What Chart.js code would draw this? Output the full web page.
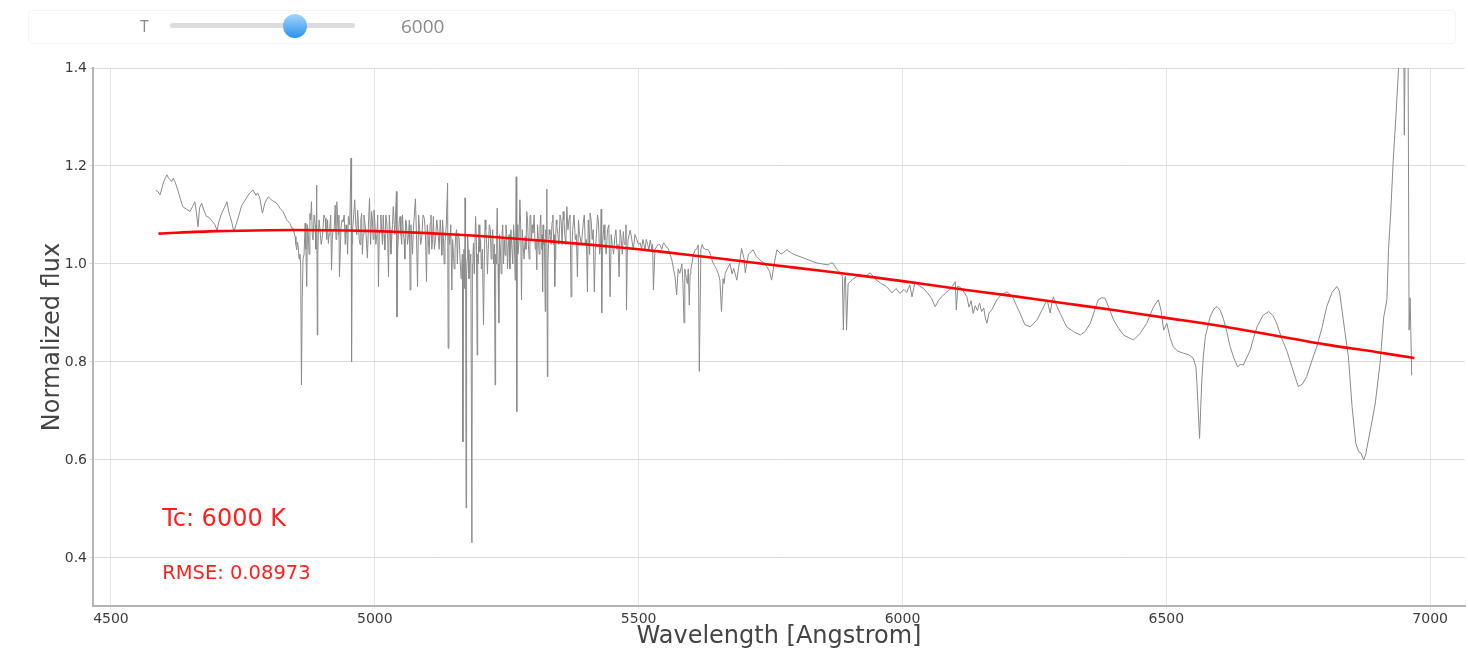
<!DOCTYPE html>
<html><head><meta charset="utf-8">
<script src="https://cdn.jsdelivr.net/npm/chart.js@4.4.0/dist/chart.umd.min.js"></script>
<style>
html,body{margin:0;padding:0;background:#fff;}
#wrap{position:relative;width:1468px;height:653px;overflow:hidden;background:#fff;}
#c{position:absolute;left:0;top:0;}
.ctl{position:absolute;left:28px;top:10px;width:1426px;height:32px;border:1px solid rgba(0,0,0,0.04);border-radius:4px;}
.lbl{position:absolute;font-family:"Open Sans",sans-serif;color:#8a8a8a;white-space:nowrap;}
.track{position:absolute;left:170px;top:23px;width:185px;height:5px;background:#dcdcdc;border-radius:3px;}
.thumb{position:absolute;left:283px;top:14px;width:24px;height:24px;border-radius:50%;background:linear-gradient(#a6d4fc,#2a93f0);}
</style></head>
<body>
<div id="wrap">
<canvas id="c" width="1468" height="653"></canvas>
<div class="ctl"></div>
<div class="lbl" style="left:140px;top:15px;font-size:16px;line-height:22px;">T</div>
<div class="track"></div>
<div class="thumb"></div>
<div class="lbl" id="tval" style="left:401px;top:13px;font-size:19px;line-height:26px;">6000</div>
</div>
<script>
// ---- data ----
const xTicks = [4500, 5000, 5500, 6000, 6500, 7000];
const yTicks = [0.4, 0.6, 0.8, 1.0, 1.2, 1.4];
const sliderValue = "6000";
const tcLabel = "Tc: 6000 K";
const rmseLabel = "RMSE: 0.08973";

// fitted black-body curve (wavelength, normalized flux)
const fitWave = [4590,4700,4800,4900,5000,5100,5200,5300,5400,5500,5600,5700,5800,5900,6000,6100,6200,6300,6400,6500,6600,6700,6800,6900,6970];
const fitFlux = [1.062,1.067,1.069,1.069,1.067,1.063,1.057,1.049,1.040,1.030,1.018,1.005,0.992,0.979,0.965,0.950,0.936,0.921,0.906,0.890,0.874,0.855,0.836,0.820,0.808];

// observed spectrum, split by region: [wavelength, flux]
const specBlue = [[4585,1.150],[4593,1.141],[4606,1.182],[4612,1.172],[4618,1.175],[4627,1.150],[4636,1.117],[4650,1.107],[4659,1.127],[4665,1.076],[4672,1.124],[4681,1.097],[4693,1.086],[4701,1.069],[4710,1.104],[4720,1.127],[4726,1.097],[4733,1.066],[4741,1.094],[4757,1.135],[4769,1.151],[4775,1.140],[4782,1.135],[4787,1.104],[4798,1.137],[4814,1.124],[4820,1.114],[4826,1.107],[4833,1.090],[4843,1.073],[4845,1.073]];

const specBlueFine = [[4589,1.148],[4600,1.168],[4609,1.176],[4615,1.168],[4622,1.166],[4631,1.135],[4643,1.112],[4655,1.118],[4662,1.105],[4668,1.115],[4676,1.110],[4686,1.095],[4697,1.080],[4705,1.088],[4715,1.115],[4723,1.108],[4729,1.085],[4737,1.080],[4748,1.120],[4763,1.145],[4778,1.145],[4792,1.125],[4805,1.130],[4817,1.120],[4830,1.098],[4839,1.083]];

const specMetal = [[4849,1.056],[4852,1.029],[4855,1.035],[4858,1.020],[4861,0.753],[4864,1.010],[4868,1.083],[4871,0.954],[4874,1.060],[4877,1.103],[4880,1.127],[4883,1.049],[4887,1.080],[4890,1.161],[4891,0.855],[4893,1.060],[4896,1.090],[4901,1.059],[4906,1.093],[4909,1.050],[4912,1.042],[4915,1.080],[4918,0.988],[4921,1.070],[4925,1.120],[4928,1.127],[4931,1.060],[4933,0.974],[4936,1.075],[4940,1.086],[4944,1.040],[4947,1.063],[4950,1.097],[4955,1.216],[4956,0.800],[4958,1.070],[4962,1.131],[4966,1.060],[4969,1.080],[4972,1.040],[4975,1.103],[4978,1.060],[4981,1.086],[4986,1.012],[4990,1.134],[4994,1.107],[4997,1.050],[5000,1.090],[5004,1.060],[5007,0.954],[5010,1.070],[5013,1.069],[5016,1.100],[5019,1.029],[5023,1.080],[5026,0.974],[5029,1.070],[5032,1.049],[5035,1.117],[5041,1.148],[5042,0.892],[5045,1.060],[5048,1.097],[5051,1.040],[5054,1.063],[5057,1.010],[5060,1.083],[5064,1.060],[5067,0.947],[5070,1.050],[5073,1.069],[5077,1.133],[5081,0.954],[5085,1.070],[5089,1.056],[5094,1.093],[5098,0.964],[5101,1.060],[5105,1.083],[5108,1.030],[5111,1.097],[5115,1.050],[5120,1.063],[5124,1.090],[5127,1.018],[5130,1.060],[5133,1.042],[5138,1.165],[5139,0.828],[5142,1.040],[5146,0.947],[5149,1.020],[5152,1.029],[5155,1.070],[5158,1.063],[5162,1.000],[5165,0.995],[5167,0.637],[5169,1.030],[5171,1.135],[5173,0.502],[5175,1.010],[5177,1.029],[5180,1.000],[5184,0.431],[5186,1.020],[5187,1.043],[5191,1.097],[5194,0.814],[5196,1.000],[5199,1.025],[5202,0.990],[5206,0.876],[5209,1.090],[5212,1.040],[5215,1.029],[5219,1.070],[5222,1.046],[5225,1.000],[5228,0.753],[5230,1.000],[5232,1.114],[5235,0.880],[5238,1.030],[5241,1.056],[5244,1.000],[5247,1.018],[5250,1.060],[5253,1.035],[5256,0.990],[5260,1.029],[5263,1.080],[5266,0.967],[5268,1.178],[5269,0.699],[5271,1.020],[5275,1.131],[5278,0.927],[5281,1.040],[5285,1.056],[5288,1.107],[5291,1.040],[5294,1.097],[5297,1.050],[5300,1.063],[5304,1.030],[5307,0.988],[5310,1.050],[5313,1.073],[5316,1.030],[5318,0.943],[5320,1.040],[5323,0.903],[5325,1.050],[5326,1.153],[5327,0.770],[5329,1.030],[5332,1.060],[5336,1.086],[5339,1.040],[5341,0.954],[5343,1.060],[5345,1.080],[5349,1.040],[5353,1.090],[5357,1.107],[5360,1.060],[5364,1.117],[5368,1.090],[5372,0.933],[5375,1.070],[5380,1.050],[5384,0.974],[5388,1.060],[5395,1.083],[5399,1.040],[5403,0.943],[5406,1.060],[5408,1.104],[5412,1.050],[5416,0.943],[5420,1.060],[5424,1.086],[5428,1.040],[5429,1.112],[5430,0.900],[5433,1.060],[5436,1.049],[5441,1.070],[5446,0.933],[5450,1.040],[5455,1.056],[5459,1.030],[5463,0.974],[5467,1.050],[5471,1.066],[5475,1.040],[5476,1.080],[5477,0.906],[5480,1.050],[5484,1.069],[5490,1.029],[5496,1.052],[5503,1.043],[5508,1.050],[5512,1.029],[5517,1.040],[5522,1.049],[5525,1.030],[5528,0.947],[5531,1.030],[5534,1.035],[5540,1.040],[5547,1.043],[5552,1.035],[5556,1.032],[5563,1.008],[5569,0.974],[5572,0.937],[5575,0.990],[5578,0.981],[5582,1.000],[5586,0.880],[5589,0.980],[5591,0.967],[5594,0.990],[5596,0.916],[5599,0.990],[5601,1.001],[5607,1.029],[5613,1.039],[5615,0.781],[5618,1.030],[5623,1.032],[5632,1.029],[5639,1.008],[5645,0.995],[5648,0.988],[5654,0.967],[5657,0.903],[5660,0.970],[5664,0.981],[5673,1.001],[5680,0.991],[5686,0.967],[5692,1.008],[5695,1.032]];

const specMetalFine = [[4850.5,1.04],[4853.5,1.045],[4856.5,1.01],[4859.5,1.00],[4862.5,0.93],[4866,1.02],[4869.5,1.03],[4872.5,1.08],[4875.5,1.02],[4878.5,1.09],[4881.5,1.06],[4885,1.10],[4888.5,1.03],[4892,1.02],[4894.5,1.09],[4898.5,1.04],[4903.5,1.10],[4907.5,1.07],[4910.5,1.09],[4913.5,1.06],[4916.5,1.10],[4919.5,1.05],[4923,1.07],[4926.5,1.05],[4929.5,1.09],[4932,1.10],[4934.5,1.02],[4938,1.09],[4942,1.10],[4945.5,1.08],[4948.5,1.02],[4952.5,1.08],[4957,1.04],[4960,1.10],[4964,1.08],[4967.5,1.11],[4970.5,1.05],[4973.5,1.09],[4976.5,1.02],[4979.5,1.10],[4983.5,1.06],[4988,1.08],[4992,1.04],[4995.5,1.09],[4998.5,1.11],[5002,1.04],[5005.5,1.10],[5008.5,1.06],[5011.5,1.10],[5014.5,1.04],[5017.5,1.06],[5021,1.10],[5024.5,1.05],[5027.5,1.10],[5030.5,1.02],[5033.5,1.08],[5038,1.06],[5043.5,1.03],[5046.5,1.09],[5049.5,1.06],[5052.5,1.10],[5055.5,1.05],[5058.5,1.09],[5062,1.04],[5065.5,1.09],[5068.5,1.08],[5071.5,1.02],[5075,1.10],[5079,1.06],[5083,1.10],[5087,1.04],[5091.5,1.10],[5096,1.06],[5099.5,1.08],[5103,1.02],[5106.5,1.10],[5109.5,1.05],[5113,1.03],[5117.5,1.09],[5122,1.03],[5125.5,1.06],[5128.5,1.09],[5131.5,1.00],[5135.5,1.08],[5140.5,1.06],[5144,1.08],[5147.5,1.05],[5150.5,0.99],[5153.5,1.06],[5156.5,1.00],[5160,1.05],[5163.5,0.97],[5166,1.02],[5168,1.00],[5170,0.95],[5172,1.05],[5174,0.98],[5176,1.06],[5178.5,0.97],[5182,1.02],[5185,1.00],[5188.5,0.98],[5192.5,1.05],[5195,1.02],[5197.5,1.08],[5200.5,1.05],[5204,1.03],[5207.5,1.00],[5210.5,1.07],[5213.5,0.98],[5217,1.08],[5220.5,1.01],[5223.5,1.07],[5226.5,1.04],[5229,1.02],[5231,1.06],[5233.5,1.00],[5236.5,1.06],[5239.5,0.98],[5242.5,1.08],[5245.5,1.05],[5248.5,1.08],[5251.5,0.99],[5254.5,1.06],[5258,1.07],[5261.5,1.00],[5264.5,1.05],[5267,1.02],[5270,1.08],[5273,1.04],[5276.5,1.08],[5279.5,1.07],[5283,1.01],[5286.5,1.03],[5289.5,1.09],[5292.5,1.01],[5295.5,1.10],[5298.5,1.08],[5302,1.10],[5305.5,1.05],[5308.5,1.08],[5311.5,1.02],[5314.5,1.10],[5317,1.06],[5319,1.08],[5321.5,1.05],[5324,1.07],[5328,1.00],[5330.5,1.07],[5334,1.04],[5337.5,1.10],[5340,1.06],[5342,1.01],[5344,1.09],[5347,1.06],[5351,1.10],[5355,1.04],[5358.5,1.09],[5362,1.04],[5366,1.07],[5370,1.10],[5373.5,1.03],[5377.5,1.10],[5382,1.06],[5386,1.09],[5391.5,1.04],[5397,1.10],[5401,1.05],[5404.5,1.09],[5407,1.02],[5410,1.09],[5414,1.07],[5418,1.03],[5422,1.10],[5426,1.02],[5431.5,1.04],[5434.5,1.08],[5438.5,1.02],[5443.5,1.08],[5448,1.06],[5452.5,1.02],[5457,1.07],[5461,1.04],[5465,1.07],[5469,1.02],[5473,1.04],[5478.5,1.02],[5482,1.06],[5487,1.05],[5493,1.06],[5499.5,1.04],[5505.5,1.03],[5510,1.04],[5514.5,1.05],[5519.5,1.03],[5526.5,1.04],[5537,1.04],[5544,1.03],[5550,1.04],[5559.5,1.02],[5566,0.99],[5580,0.99],[5584,0.96],[5587.5,0.99],[5592.5,0.96],[5597.5,0.98],[5604,1.02],[5610,1.03],[5620.5,1.04],[5627,1.03],[5636,1.02],[5642,1.00],[5651,0.98],[5662,0.96],[5668,0.99],[5677,0.98],[5683,0.98],[5689,0.99]];

const specMid = [[5700,1.010],[5702,0.982],[5708,1.020],[5717,1.029],[5723,1.015],[5730,1.008],[5740,1.000],[5748,0.985],[5752,0.967],[5756,0.995],[5762,1.029],[5770,1.020],[5781,1.029],[5790,1.022],[5798,1.018],[5806,1.015],[5818,1.010],[5830,1.005],[5838,1.002],[5849,1.000],[5859,0.998],[5864,1.002],[5868,1.002],[5875,0.990],[5882,0.982],[5886,0.975],[5888,0.865],[5890,0.970],[5892,0.975],[5894,0.865],[5897,0.960],[5901,0.964],[5910,0.972],[5920,0.978],[5930,0.975],[5939,0.982],[5948,0.970],[5958,0.961],[5968,0.955],[5975,0.948],[5980,0.941],[5988,0.950],[5995,0.940],[6003,0.948],[6008,0.942],[6014,0.957],[6018,0.933],[6024,0.964],[6032,0.955],[6040,0.950],[6048,0.940],[6055,0.930],[6062,0.913],[6068,0.925],[6074,0.933],[6084,0.943],[6092,0.950],[6100,0.964],[6102,0.906],[6105,0.955],[6112,0.950],[6118,0.940],[6122,0.933],[6126,0.912],[6130,0.925],[6134,0.899],[6138,0.915],[6142,0.905],[6146,0.920],[6150,0.903],[6154,0.910],[6157,0.890],[6160,0.879],[6164,0.900],[6169,0.906],[6179,0.927],[6188,0.938],[6198,0.943],[6204,0.938],[6210,0.930],[6216,0.915],[6223,0.899],[6232,0.876],[6242,0.872],[6248,0.878],[6255,0.886],[6264,0.905],[6274,0.927],[6280,0.900],[6283,0.920],[6286,0.933],[6292,0.915],[6299,0.899],[6311,0.872],[6324,0.862],[6337,0.855],[6346,0.862],[6356,0.879],[6364,0.905],[6371,0.927],[6378,0.931],[6384,0.930],[6392,0.908],[6400,0.886],[6410,0.868],[6419,0.855],[6428,0.850],[6438,0.845],[6450,0.858],[6463,0.879],[6470,0.898],[6476,0.913],[6485,0.927]];

const specRed = [[6490,0.905],[6495,0.865],[6501,0.879],[6507,0.850],[6513,0.831],[6522,0.822],[6532,0.818],[6542,0.815],[6551,0.808],[6556,0.790],[6558,0.757],[6563,0.644],[6567,0.757],[6570,0.810],[6574,0.852],[6583,0.892],[6590,0.908],[6596,0.913],[6602,0.906],[6608,0.889],[6615,0.860],[6621,0.831],[6628,0.808],[6635,0.790],[6640,0.795],[6646,0.794],[6652,0.808],[6659,0.824],[6665,0.848],[6672,0.872],[6683,0.895],[6694,0.903],[6702,0.895],[6709,0.879],[6718,0.850],[6728,0.824],[6738,0.790],[6750,0.750],[6758,0.755],[6766,0.770],[6775,0.800],[6785,0.831],[6795,0.870],[6804,0.913],[6814,0.942],[6823,0.954],[6828,0.945],[6832,0.913],[6838,0.865],[6845,0.811],[6852,0.709],[6859,0.634],[6865,0.616],[6869,0.614],[6874,0.600],[6878,0.612],[6883,0.641],[6890,0.680],[6896,0.716],[6905,0.797],[6912,0.892],[6918,0.927],[6921,1.029],[6925,1.100],[6930,1.212],[6935,1.300],[6940,1.396],[6944,1.480],[6950,1.480],[6951,1.263],[6953,1.480],[6958,1.480],[6960,0.865],[6962,0.931],[6965,0.773]];

// ---- build chart ----
document.getElementById('tval').textContent = sliderValue;
const spectrum = specBlue.concat(specBlueFine, specMetal, specMetalFine, specMid, specRed)
  .sort((a, b) => a[0] - b[0])
  .map(p => ({x: p[0], y: p[1]}));
const fit = fitWave.map((w, i) => ({x: w, y: fitFlux[i]}));

const notes = {
  id: 'notes',
  afterDatasetsDraw(chart) {
    const {ctx, scales: {x, y}} = chart;
    ctx.save();
    ctx.fillStyle = '#ff1f1f';
    ctx.textAlign = 'left';
    ctx.textBaseline = 'alphabetic';
    ctx.font = '24px "DejaVu Sans"';
    ctx.fillText(tcLabel, x.getPixelForValue(4597), y.getPixelForValue(0.465));
    ctx.font = '19.5px "DejaVu Sans"';
    ctx.fillText(rmseLabel, x.getPixelForValue(4597), y.getPixelForValue(0.357));
    ctx.restore();
  }
};

new Chart(document.getElementById('c'), {
  type: 'line',
  data: {
    datasets: [
      {data: fit, borderColor: '#ff0000', borderWidth: 2.6, pointRadius: 0, tension: 0.3, fill: false},
      {data: spectrum, borderColor: '#8a8a8a', borderWidth: 1, pointRadius: 0, tension: 0, fill: false}
    ]
  },
  options: {
    responsive: false,
    animation: false,
    devicePixelRatio: 1,
    layout: {padding: {left: 0, top: 68, right: 3, bottom: 0}},
    plugins: {legend: {display: false}, tooltip: {enabled: false}},
    scales: {
      x: {
        type: 'linear', min: 4466, max: 7066,
        afterBuildTicks: s => { s.ticks = xTicks.map(v => ({value: v})); },
        afterFit: s => { s.height = 47; },
        ticks: {font: {family: 'DejaVu Sans', size: 14}, color: '#3c3c3c', padding: 2, maxRotation: 0, callback: v => String(v)},
        grid: {color: '#e4e4e4', lineWidth: 1, tickLength: 3, drawTicks: true},
        border: {color: '#b4b4b4', width: 2},
        title: {display: true, text: 'Wavelength [Angstrom]', color: '#444', font: {family: 'DejaVu Sans', size: 24}, padding: {top: 0, bottom: 2}}
      },
      y: {
        type: 'linear', min: 0.302, max: 1.4,
        afterBuildTicks: s => { s.ticks = yTicks.map(v => ({value: v})); },
        afterFit: s => { s.width = 93; },
        ticks: {font: {family: 'DejaVu Sans', size: 14}, color: '#3c3c3c', padding: 2, callback: v => Number(v).toFixed(1)},
        grid: {color: '#dcdcdc', lineWidth: 1, tickLength: 4, drawTicks: true},
        border: {color: '#b4b4b4', width: 2},
        title: {display: true, text: 'Normalized flux', color: '#444', font: {family: 'DejaVu Sans', size: 24}, padding: {top: 38, bottom: 0}}
      }
    }
  },
  plugins: [notes]
});
</script>
</body></html>
